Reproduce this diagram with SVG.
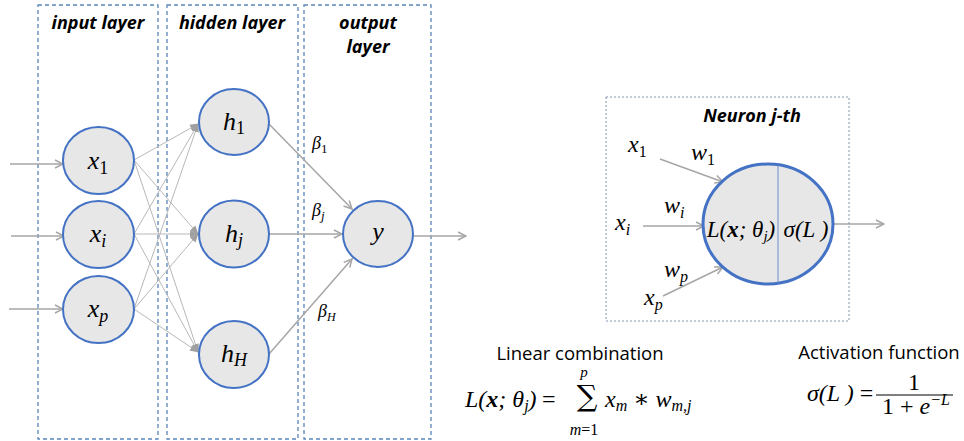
<svg xmlns="http://www.w3.org/2000/svg" width="964" height="441" viewBox="0 0 964 441">
<style>
.layer{fill:none;stroke:#5b86b8;stroke-width:1.3;stroke-dasharray:4 3}
.title{font-family:"Open Sans","Liberation Sans",sans-serif;font-weight:bold;font-style:italic;font-size:18px;fill:#000;text-anchor:middle}
.node{fill:#e7e7e7;stroke:#4472c4;stroke-width:2}
.m{font-family:"Liberation Serif","DejaVu Serif",serif;font-style:italic;fill:#000}
.up{font-style:normal}
.lbl{font-size:26px;text-anchor:middle}
.sub{font-size:18px}
.con{stroke:#a6a6a6;stroke-width:1.5;fill:none}
.thin{stroke:#b8b8b8;stroke-width:1;fill:none}
.sans{font-family:"Open Sans","Liberation Sans",sans-serif;font-size:18.5px;fill:#000;text-anchor:middle}
</style>
<defs>
<marker id="open" viewBox="0 0 10 10" refX="9" refY="5" markerWidth="10" markerHeight="10" markerUnits="userSpaceOnUse" orient="auto">
<path d="M1,1 L9,5 L1,9" fill="none" stroke="#a6a6a6" stroke-width="1.5"/>
</marker>
<marker id="fill" viewBox="0 0 10 10" refX="9" refY="5" markerWidth="9" markerHeight="9" markerUnits="userSpaceOnUse" orient="auto">
<path d="M0,1 L10,5 L0,9 z" fill="#a0a0a0"/>
</marker>
</defs>

<g id="layers">
<rect class="layer" x="38" y="5" width="120" height="434"/>
<rect class="layer" x="167" y="5" width="131" height="434"/>
<rect class="layer" x="304" y="5" width="127" height="434"/>
<text class="title" x="98" y="29">input layer</text>
<text class="title" x="232" y="29">hidden layer</text>
<text class="title" x="368" y="29">output</text>
<text class="title" x="368" y="53">layer</text>
</g>

<g id="connectors">
<line class="con" x1="10" y1="164" x2="63" y2="164" marker-end="url(#open)"/>
<line class="con" x1="11" y1="236" x2="64" y2="236" marker-end="url(#open)"/>
<line class="con" x1="9" y1="309" x2="63" y2="309" marker-end="url(#open)"/>
<line class="thin" x1="134" y1="160" x2="198" y2="124" marker-end="url(#fill)"/>
<line class="thin" x1="134" y1="160" x2="198" y2="234" marker-end="url(#fill)"/>
<line class="thin" x1="134" y1="160" x2="198" y2="352" marker-end="url(#fill)"/>
<line class="thin" x1="134" y1="234" x2="198" y2="124" marker-end="url(#fill)"/>
<line class="thin" x1="134" y1="234" x2="198" y2="234" marker-end="url(#fill)"/>
<line class="thin" x1="134" y1="234" x2="198" y2="352" marker-end="url(#fill)"/>
<line class="thin" x1="134" y1="309" x2="198" y2="124" marker-end="url(#fill)"/>
<line class="thin" x1="134" y1="309" x2="198" y2="234" marker-end="url(#fill)"/>
<line class="thin" x1="134" y1="309" x2="198" y2="352" marker-end="url(#fill)"/>
<line class="con" x1="269" y1="124" x2="352" y2="209" marker-end="url(#open)"/>
<line class="con" x1="269" y1="234" x2="342" y2="234" marker-end="url(#open)"/>
<line class="con" x1="269" y1="354" x2="352" y2="259" marker-end="url(#open)"/>
<line class="con" x1="413" y1="236" x2="466" y2="236" marker-end="url(#open)"/>
<line class="con" x1="660" y1="159" x2="723" y2="182" marker-end="url(#open)"/>
<line class="con" x1="643" y1="226" x2="704" y2="226" marker-end="url(#open)"/>
<line class="con" x1="663" y1="296" x2="723" y2="267" marker-end="url(#open)"/>
<line class="con" x1="833" y1="224" x2="884" y2="224" marker-end="url(#open)"/>
</g>

<g id="weights" class="m">
<text x="312" y="149" font-size="18">β<tspan class="up" font-size="13" dy="4">1</tspan></text>
<text x="312" y="216" font-size="18">β<tspan font-size="13" dy="4">j</tspan></text>
<text x="318" y="317" font-size="18">β<tspan font-size="12" dy="4">H</tspan></text>
</g>

<g id="x1"><ellipse class="node" cx="98.5" cy="160.5" rx="35.5" ry="33.5"/>
<text class="m lbl" x="98" y="169">x<tspan class="sub up" dy="5">1</tspan></text></g>
<g id="xi"><ellipse class="node" cx="98.5" cy="234.5" rx="35.5" ry="33.5"/>
<text class="m lbl" x="98" y="242">x<tspan class="sub" dy="5">i</tspan></text></g>
<g id="xp"><ellipse class="node" cx="98.5" cy="309.5" rx="35.5" ry="33.5"/>
<text class="m lbl" x="98" y="317">x<tspan class="sub" dy="5">p</tspan></text></g>
<g id="h1"><ellipse class="node" cx="234" cy="122" rx="35" ry="33"/>
<text class="m lbl" x="234" y="130">h<tspan class="sub up" dy="4">1</tspan></text></g>
<g id="hj"><ellipse class="node" cx="234" cy="234" rx="35" ry="33.5"/>
<text class="m lbl" x="234" y="242">h<tspan class="sub" dy="4">j</tspan></text></g>
<g id="hH"><ellipse class="node" cx="234" cy="354.5" rx="35" ry="33.5"/>
<text class="m lbl" x="234" y="362">h<tspan class="sub" dy="4">H</tspan></text></g>
<g id="y"><ellipse class="node" cx="378" cy="234" rx="35" ry="33"/>
<text class="m lbl" x="378" y="240">y</text></g>

<g id="neuron-box">
<rect x="606" y="97" width="243" height="224" fill="none" stroke="#8497b0" stroke-width="1" stroke-dasharray="2 2"/>
<text class="title" x="752" y="122">Neuron j-th</text>
</g>

<g id="neuron">
<ellipse cx="768" cy="224" rx="65" ry="60" fill="#e7e7e7" stroke="#4472c4" stroke-width="3"/>
<line x1="778" y1="165" x2="778" y2="283" stroke="#6f8fd0" stroke-width="1"/>
<text class="m" x="741" y="237" font-size="23" text-anchor="middle">L(<tspan font-weight="bold">x</tspan>; θ<tspan font-size="15" dy="4">j</tspan><tspan dy="-4">)</tspan></text>
<text class="m" x="806" y="237" font-size="23" text-anchor="middle">σ(L )</text>
</g>

<g id="neuron-inputs" class="m">
<text x="628" y="152" font-size="24">x<tspan class="up" font-size="16" dy="5">1</tspan></text>
<text x="691" y="160" font-size="24">w<tspan class="up" font-size="16" dy="5">1</tspan></text>
<text x="664" y="213" font-size="24">w<tspan font-size="16" dy="5">i</tspan></text>
<text x="615" y="230" font-size="24">x<tspan font-size="16" dy="5">i</tspan></text>
<text x="664" y="277" font-size="24">w<tspan font-size="16" dy="5">p</tspan></text>
<text x="644" y="305" font-size="24">x<tspan font-size="16" dy="5">p</tspan></text>
</g>

<g id="linear-combination">
<text class="sans" x="580" y="360">Linear combination</text>
<text class="m" x="465" y="407" font-size="24">L(<tspan font-weight="bold">x</tspan>; θ<tspan font-size="16" dy="4">j</tspan><tspan dy="-4">)</tspan></text>
<text class="m up" x="542" y="407" font-size="24">=</text>
<text x="587" y="406" font-size="29" text-anchor="middle" font-family="DejaVu Serif, serif">∑</text>
<text class="m" x="584" y="377" font-size="15" text-anchor="middle">p</text>
<text class="m" x="584" y="435" font-size="16" text-anchor="middle">m<tspan class="up">=1</tspan></text>
<text class="m" x="605" y="407" font-size="24">x<tspan font-size="16" dy="4">m</tspan><tspan class="up" dy="-4"> ∗ </tspan>w<tspan font-size="16" dy="4">m,j</tspan></text>
</g>

<g id="activation-function">
<text class="sans" x="879" y="359">Activation function</text>
<text class="m" x="807" y="401" font-size="24">σ(L ) <tspan class="up">=</tspan></text>
<text class="m up" x="914" y="390" font-size="24" text-anchor="middle">1</text>
<line x1="876" y1="395" x2="953" y2="395" stroke="#000" stroke-width="1"/>
<text class="m" x="916" y="414" font-size="24" text-anchor="middle"><tspan class="up">1 + </tspan>e<tspan font-size="16" dy="-9">−L</tspan></text>
</g>
</svg>
